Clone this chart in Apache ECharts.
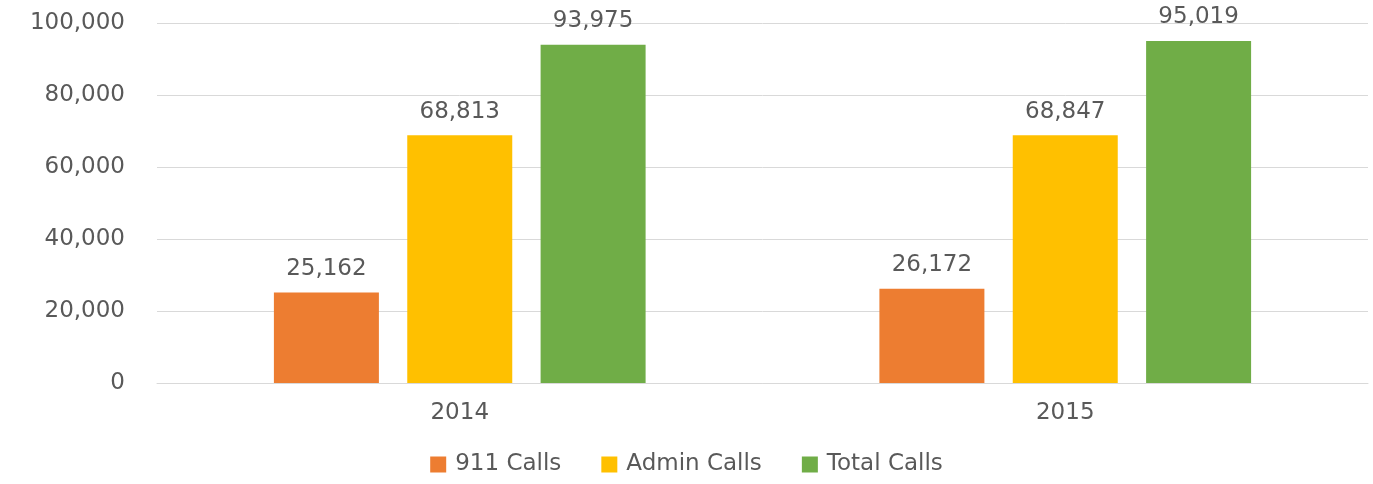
<!DOCTYPE html>
<html>
<head>
<meta charset="utf-8">
<script src="https://cdn.jsdelivr.net/npm/echarts@6/dist/echarts.min.js"></script>
<style>html,body{margin:0;padding:0;background:#fff}#c{width:1373px;height:484px}</style>
</head>
<body>
<div id="c"></div>
<script>
const categories = ['2014', '2015'];
const calls911 = [25162, 26172];
const adminCalls = [68813, 68847];
const totalCalls = [93975, 95019];
const seriesNames = ['911 Calls', 'Admin Calls', 'Total Calls'];
const colors = ['#ED7D31', '#FFC000', '#70AD47'];

const chart = echarts.init(document.getElementById('c'));
const fmt = v => v.toLocaleString('en-US');
const txt = '#595959';
const font = 'DejaVu Sans';
function mk(name, data, color) {
  return {
    name, type: 'bar', data, barWidth: 105, barGap: '27%',
    itemStyle: { color },
    label: { show: true, position: 'top', distance: 12, color: txt, fontFamily: font, fontSize: 23,
      formatter: p => fmt(p.value) }
  };
}
chart.setOption({
  animation: false,
  textStyle: { fontFamily: font },
  grid: { left: 157, right: 5, top: 23, bottom: 101 },
  legend: {
    bottom: 3, left: 'center', itemWidth: 16, itemHeight: 16, itemGap: 40,
    icon: 'rect',
    textStyle: { color: txt, fontFamily: font, fontSize: 23, padding: [0, 0, 0, 4] },
    data: seriesNames
  },
  xAxis: {
    type: 'category', data: categories,
    axisLine: { lineStyle: { color: '#D9D9D9', width: 1 } },
    axisTick: { show: false },
    axisLabel: { color: txt, fontFamily: font, fontSize: 23, margin: 19 }
  },
  yAxis: {
    type: 'value', min: 0, max: 100000, interval: 20000,
    axisLine: { show: false }, axisTick: { show: false },
    splitLine: { lineStyle: { color: '#D9D9D9', width: 1 } },
    axisLabel: { color: txt, fontFamily: font, fontSize: 23, margin: 32, formatter: v => fmt(v) }
  },
  series: [
    mk(seriesNames[0], calls911, colors[0]),
    mk(seriesNames[1], adminCalls, colors[1]),
    mk(seriesNames[2], totalCalls, colors[2])
  ]
});
</script>
</body>
</html>
